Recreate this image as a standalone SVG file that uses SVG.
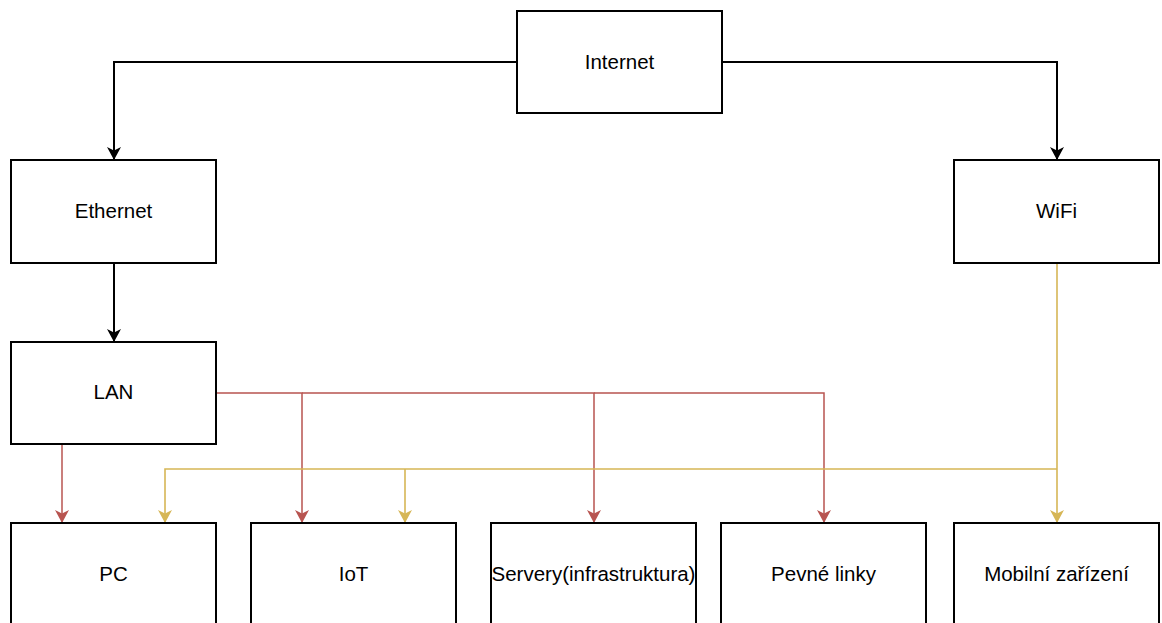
<svg xmlns="http://www.w3.org/2000/svg" width="1162" height="623" viewBox="0 0 1162 623">
<style>
.box{fill:#fff;stroke:#000;stroke-width:2}
.lbl{font-family:"Liberation Sans",Arial,sans-serif;font-size:20.5px;fill:#000;text-anchor:middle;dominant-baseline:central}
.blk{fill:none;stroke:#000;stroke-width:2;marker-end:url(#ab)}
.red{fill:none;stroke:#b85450;stroke-width:1.5;marker-end:url(#ar)}
.yel{fill:none;stroke:#d6b656;stroke-width:1.6;marker-end:url(#ay)}
</style>
<defs>
<marker id="ab" markerUnits="userSpaceOnUse" viewBox="0 0 13 14" refX="13" refY="7" markerWidth="13" markerHeight="14" orient="auto"><path d="M0,0 L13,7 L0,14 L3.5,7 Z" fill="#000"/></marker>
<marker id="ar" markerUnits="userSpaceOnUse" viewBox="0 0 13 14" refX="13" refY="7" markerWidth="13" markerHeight="14" orient="auto"><path d="M0,0 L13,7 L0,14 L3.5,7 Z" fill="#b85450"/></marker>
<marker id="ay" markerUnits="userSpaceOnUse" viewBox="0 0 13 14" refX="13" refY="7" markerWidth="13" markerHeight="14" orient="auto"><path d="M0,0 L13,7 L0,14 L3.5,7 Z" fill="#d6b656"/></marker>
</defs>
<g id="connectors">
<path class="blk" d="M517,62 H114 V160"/>
<path class="blk" d="M722,62 H1057 V160"/>
<path class="blk" d="M114,263 V342"/>
<path class="red" d="M62,444 V523"/>
<path class="red" d="M217,393 H302 V523"/>
<path class="red" d="M302,393 H594 V523"/>
<path class="red" d="M594,393 H824 V523"/>
<path class="yel" d="M1057,263 V523"/>
<path class="yel" d="M1057,469 H165 V523"/>
<path class="yel" d="M405,469 V523"/>
</g>
<g id="internet"><rect class="box" x="517" y="11" width="205" height="102"/><text class="lbl" x="619.5" y="61">Internet</text></g>
<g id="ethernet"><rect class="box" x="11" y="160" width="205" height="103"/><text class="lbl" x="113.5" y="210">Ethernet</text></g>
<g id="wifi"><rect class="box" x="954" y="160" width="205" height="103"/><text class="lbl" x="1056.5" y="210">WiFi</text></g>
<g id="lan"><rect class="box" x="11" y="342" width="205" height="102"/><text class="lbl" x="113.5" y="391">LAN</text></g>
<g id="pc"><rect class="box" x="11" y="523" width="205" height="103"/><text class="lbl" x="113.5" y="573">PC</text></g>
<g id="iot"><rect class="box" x="251" y="523" width="205" height="103"/><text class="lbl" x="353.5" y="573">IoT</text></g>
<g id="servery"><rect class="box" x="491" y="523" width="205" height="103"/><text class="lbl" x="593.5" y="573">Servery(infrastruktura)</text></g>
<g id="pevne"><rect class="box" x="721" y="523" width="205" height="103"/><text class="lbl" x="823.5" y="573">Pevné linky</text></g>
<g id="mobilni"><rect class="box" x="954" y="523" width="205" height="103"/><text class="lbl" x="1056.5" y="573">Mobilní zařízení</text></g>
</svg>
